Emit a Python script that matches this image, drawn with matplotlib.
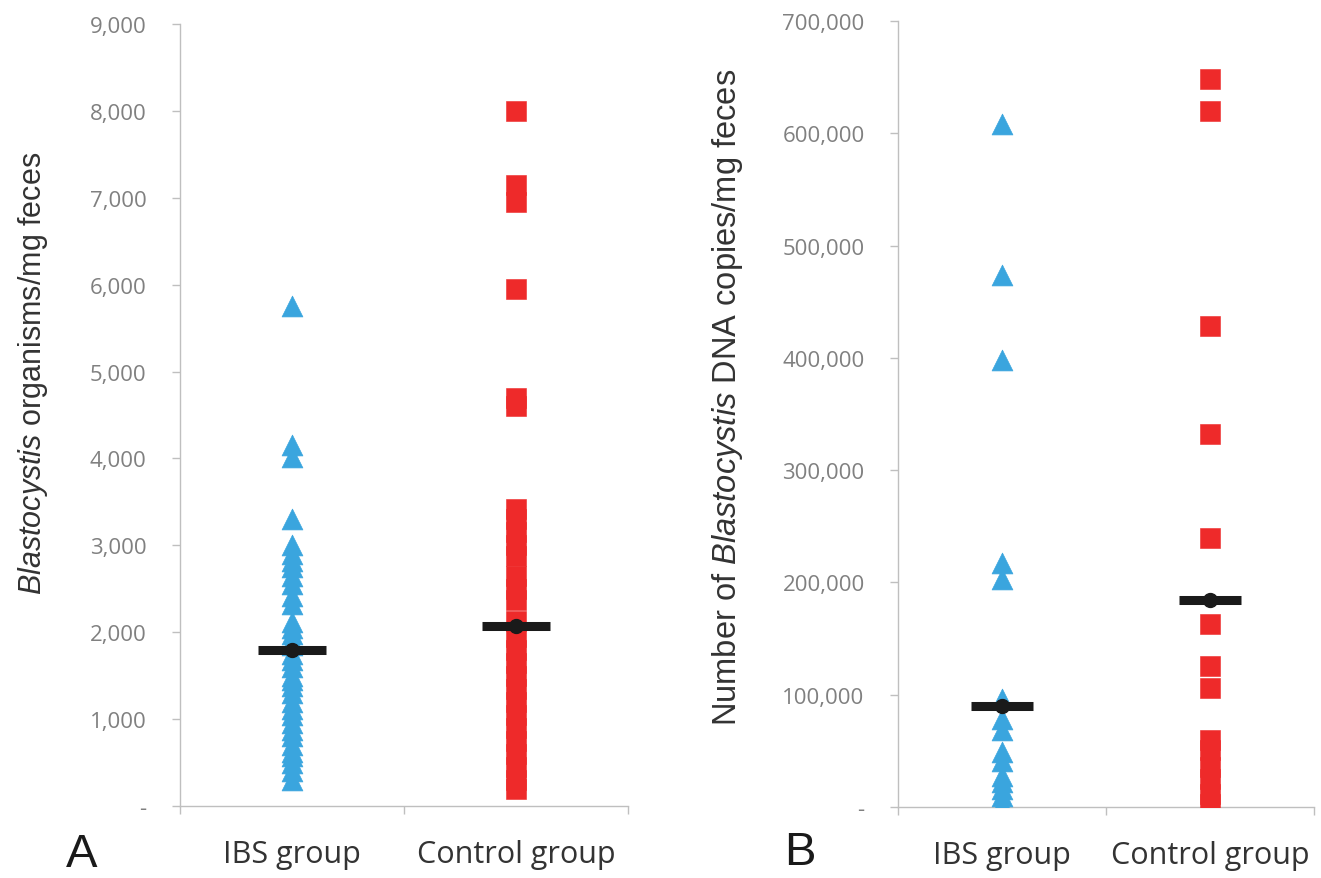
import matplotlib.pyplot as plt
from matplotlib.ticker import FuncFormatter, FixedLocator

plt.rcParams['mathtext.fontset'] = 'custom'
plt.rcParams['mathtext.it'] = 'Liberation Sans:italic'
plt.rcParams['mathtext.rm'] = 'Liberation Sans'

# Values
groups = ['IBS group', 'Control group']

# Panel A: Blastocystis organisms/mg feces
ibs_a = [5750, 4150, 4020, 3300, 3000, 2900, 2820, 2750, 2650, 2550, 2420,
         2330, 2120, 2050, 1980, 1900, 1850, 1750, 1680, 1600, 1500, 1450,
         1380, 1300, 1200, 1120, 1050, 950, 880, 800, 700, 620, 580, 500,
         400, 300]
ctrl_a = [8000, 7150, 6950, 5950, 4700, 4600, 3420, 3300, 3150, 3000, 2880,
          2650, 2500, 2370, 2130, 1950, 1800, 1650, 1500, 1350, 1200, 1050,
          900, 750, 600, 450, 300, 200]
median_a = [1800, 2070]

# Panel B: DNA copies/mg feces
ibs_b = [608000, 474000, 398000, 217000, 203000, 96000, 78000, 69000,
         49000, 41000, 28000, 22000, 16000, 10000, 3000]
ctrl_b = [648000, 620000, 428000, 332000, 240000, 163000, 126000, 106000,
          60000, 51000, 36000, 25000, 12000, 3000]
median_b = [90000, 184000]

blue = '#3AA5DE'
red = '#EE2A2A'
grey = '#BFBFBF'
tickgrey = '#808080'

fmt = FuncFormatter(lambda v, p: '-' if v == 0 else f'{v:,.0f}')

fig = plt.figure(figsize=(13.21, 8.79), dpi=100)
axA = fig.add_axes([180 / 1321, 72 / 879, 448 / 1321, 782 / 879])
axB = fig.add_axes([898 / 1321, 71 / 879, 416 / 1321, 786 / 879])


def panel(ax, ibs, ctrl, med, ymax, step, ylabel, lsize, lx, ly):
    ax.scatter([0.5] * len(ibs), ibs, marker='^', s=15 ** 2, color=blue,
               edgecolors=blue, linewidths=0.5, zorder=3)
    ax.scatter([1.5] * len(ctrl), ctrl, marker='s', s=14.5 ** 2, color=red,
               edgecolors=red, linewidths=0.4, zorder=3)
    for x, m in zip([0.5, 1.5], med):
        ax.hlines(m, x - 0.15, x + 0.15, color='#1A1A1A', linewidth=6.5,
                  zorder=4)
        ax.plot(x, m, 'o', color='#1A1A1A', ms=10, zorder=5)

    ax.set_xlim(0, 2)
    ax.set_ylim(0, ymax)
    ax.yaxis.set_major_locator(FixedLocator(list(range(0, ymax + 1, step))))
    ax.yaxis.set_major_formatter(fmt)
    ax.xaxis.set_major_locator(FixedLocator([0.5, 1.5]))
    ax.xaxis.set_minor_locator(FixedLocator([0, 1, 2]))
    ax.set_xticklabels(groups, fontsize=22, color='#333333',
                       family='Open Sans')
    ax.tick_params(axis='x', which='major', length=0, pad=24)
    ax.tick_params(axis='x', which='minor', length=6, color=grey, width=1)
    ax.tick_params(axis='y', length=6, color=grey, width=1, pad=18,
                   labelsize=16, labelcolor=tickgrey)
    for t in ax.get_yticklabels():
        t.set_family('Open Sans')
    for s in ['top', 'right']:
        ax.spines[s].set_visible(False)
    for s in ['left', 'bottom']:
        ax.spines[s].set_color(grey)
        ax.spines[s].set_linewidth(1)
    ax.set_ylabel(ylabel, fontsize=lsize, color='#333333',
                  family='Liberation Sans')
    ax.yaxis.set_label_coords(lx, ly)


panel(axA, ibs_a, ctrl_a, median_a, 9000, 1000,
      r'$\it{Blastocystis}$ organisms/mg feces', 22, -0.29, 0.555)
panel(axB, ibs_b, ctrl_b, median_b, 700000, 100000,
      r'Number of $\it{Blastocystis}$ DNA copies/mg feces', 23.5, -0.367,
      0.523)

fig.text(82 / 1321, 1 - 855 / 879, 'A', fontsize=34, ha='center',
         va='center', color='#1A1A1A', family='Liberation Sans')
fig.text(800 / 1321, 1 - 853 / 879, 'B', fontsize=34, ha='center',
         va='center', color='#1A1A1A', family='Liberation Sans')

fig.savefig('out.png', dpi=100)
